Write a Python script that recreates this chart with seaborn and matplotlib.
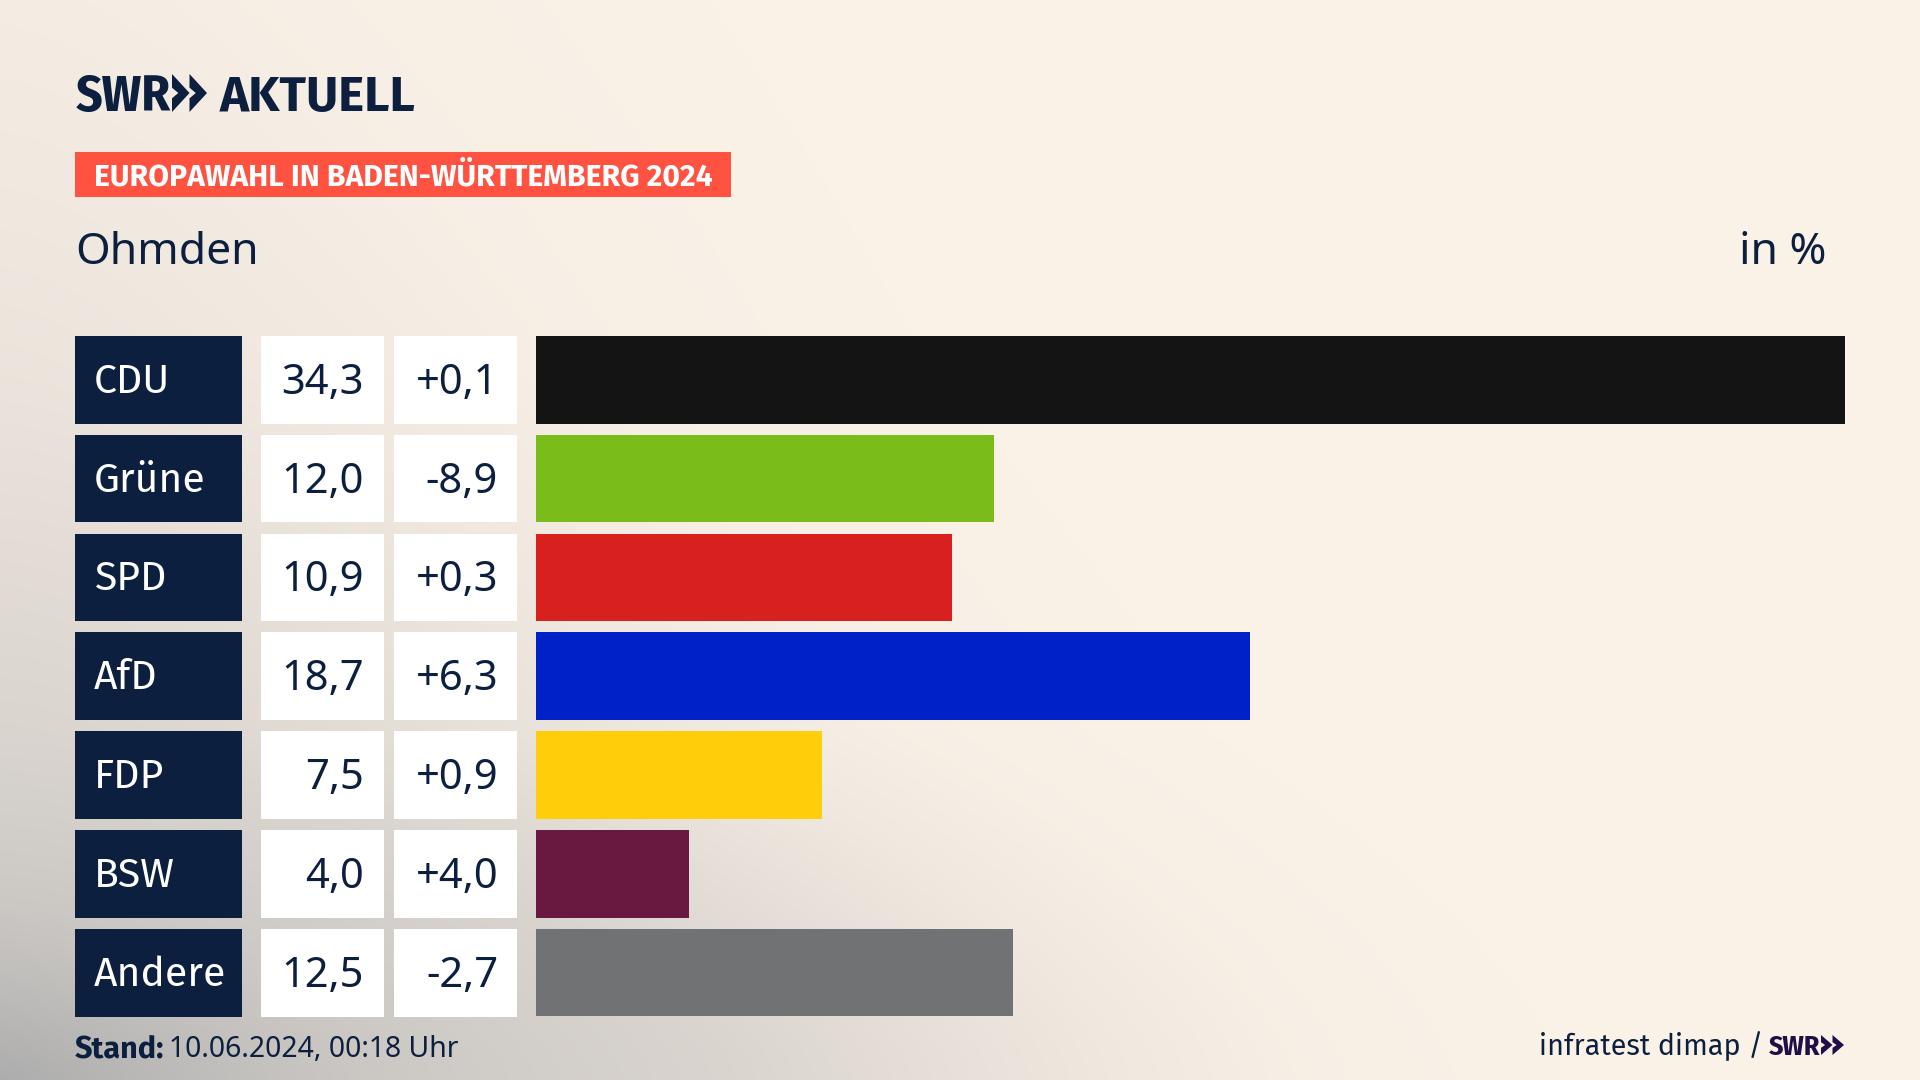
import numpy as np
import pandas as pd
import matplotlib
matplotlib.use("Agg")
import matplotlib.pyplot as plt
from matplotlib.patches import Rectangle, Polygon
from matplotlib.colors import to_rgb
from matplotlib.transforms import blended_transform_factory
import seaborn as sns

parties = ["CDU", "Grüne", "SPD", "AfD", "FDP", "BSW", "Andere"]
shares = [34.3, 12.0, 10.9, 18.7, 7.5, 4.0, 12.5]
deltas = ["+0,1", "-8,9", "+0,3", "+6,3", "+0,9", "+4,0", "-2,7"]
colors = ["#141414", "#7ABD1A", "#D8201E", "#0021C8", "#FFCE0A", "#69193F", "#707274"]

W, H = 1920, 1080
NAVY = "#0C1F3F"
FONT = ["Fira Sans", "Noto Sans", "DejaVu Sans"]
NUM = ["Noto Sans", "DejaVu Sans"]
COND = ["Fira Sans Condensed", "Roboto Condensed", "Noto Sans", "DejaVu Sans"]
sns.set_theme(style="white")
plt.rcParams["font.family"] = FONT

fig = plt.figure(figsize=(W / 100, H / 100), dpi=100)

def fx(x): return x / W
def fy(y): return 1 - y / H
def P(v): return v * 0.72

# background glow
bg = fig.add_axes([0, 0, 1, 1], zorder=0)
yy, xx = np.mgrid[0:H, 0:W]
up = np.interp(H - yy, [0, 345, 713, 1080], [0, 0.58, 0.83, 0.98])
d = ((xx / 1250.0) ** 1.5 + up ** 1.5) ** (1 / 1.5)
t = np.interp(d, [0, 0.15, 0.29, 0.45, 0.58, 0.75, 0.9, 1.05, 1.25],
              [1, 0.78, 0.61, 0.5, 0.42, 0.26, 0.12, 0.03, 0])
c0 = np.array(to_rgb("#FAF1E7"))
c1 = np.array(to_rgb("#ADADAD"))
img = c0[None, None, :] * (1 - t[..., None]) + c1[None, None, :] * t[..., None]
bg.imshow(img, aspect="auto", extent=(0, W, H, 0))
bg.axis("off")

# bars
top, bottom = 336, 1016.5
hw = 0.443
ax = fig.add_axes([fx(536), fy(bottom), fx(1845 - 536), (bottom - top) / H], zorder=2)
df = pd.DataFrame({"party": parties, "share": shares})
sns.barplot(data=df, x="share", y="party", hue="party", palette=colors, dodge=False,
            legend=False, width=2 * hw, saturation=1, ax=ax, linewidth=0)
ax.set_xlim(0, max(shares))
ax.set_ylim(6 + hw, -hw)
ax.axis("off")

blend = blended_transform_factory(fig.transFigure, ax.transData)
for i, (p, s, dl) in enumerate(zip(parties, shares, deltas)):
    for x0, x1, col in [(75, 242, NAVY), (261, 384, "white"), (394, 517, "white")]:
        ax.add_patch(Rectangle((fx(x0), i - hw), fx(x1 - x0), 2 * hw, transform=blend,
                               facecolor=col, edgecolor="none", clip_on=False))
    val = f"{s:.1f}".replace(".", ",")
    ax.annotate(p, xy=(fx(94), i), xycoords=blend, xytext=(0, P(-13)), textcoords="offset points",
                ha="left", va="baseline", color="white", fontsize=29.5)
    for tx, label in [(364, val), (498, dl)]:
        ax.annotate(label, xy=(fx(tx), i), xycoords=blend, xytext=(0, P(-14)), textcoords="offset points",
                    ha="right", va="baseline", color=NAVY, fontsize=30, family=NUM)

# header
fig.patches.append(Rectangle((fx(75), fy(197)), fx(656), 45 / H, transform=fig.transFigure,
                             facecolor="#FF5240", edgecolor="none", zorder=1))
fig.text(fx(94), fy(185), "EUROPAWAHL IN BADEN-WÜRTTEMBERG 2024", color="white", fontsize=21.7,
         fontweight="bold", va="baseline", zorder=5)
fig.text(fx(75), fy(264), "Ohmden", color=NAVY, fontsize=32, family=NUM, va="baseline", zorder=5)
fig.text(fx(1826), fy(264), "in %", color=NAVY, fontsize=32, family=NUM, va="baseline", ha="right", zorder=5)
fig.text(fx(76), fy(111), "SWR", color=NAVY, fontsize=37, fontweight="bold", family=COND, va="baseline", zorder=5)
fig.text(fx(220), fy(111), "AKTUELL", color=NAVY, fontsize=35.5, fontweight="bold", va="baseline", zorder=5)

def chevrons(x, y0, y1, w, gap, col):
    m = (y0 + y1) / 2
    n = (y1 - y0) * 0.36
    for k in range(2):
        xs = x + k * gap
        pts = [(xs, y0), (xs + w, m), (xs, y1), (xs, y1 - n), (xs + w * 0.36, m), (xs, y0 + n)]
        fig.patches.append(Polygon([(fx(a), fy(b)) for a, b in pts], closed=True, transform=fig.transFigure,
                                   facecolor=col, edgecolor="none", zorder=5))

chevrons(172, 74, 112, 17.5, 17.5, NAVY)
fig.text(fx(75), fy(1057), "Stand:", color=NAVY, fontsize=22, fontweight="bold", va="baseline", zorder=5)
fig.text(fx(169), fy(1057), "10.06.2024, 00:18 Uhr", color=NAVY, fontsize=20.4, family=NUM, va="baseline", zorder=5)
fig.text(fx(1539), fy(1055), "infratest dimap /", color=NAVY, fontsize=20.7, va="baseline", zorder=5)
fig.text(fx(1769), fy(1055), "SWR", color="#1F0E47", fontsize=20, fontweight="bold", family=COND, va="baseline", zorder=5)
chevrons(1821, 1035, 1055, 11.5, 11.5, "#1F0E47")

fig.savefig("out.png", dpi=100)
